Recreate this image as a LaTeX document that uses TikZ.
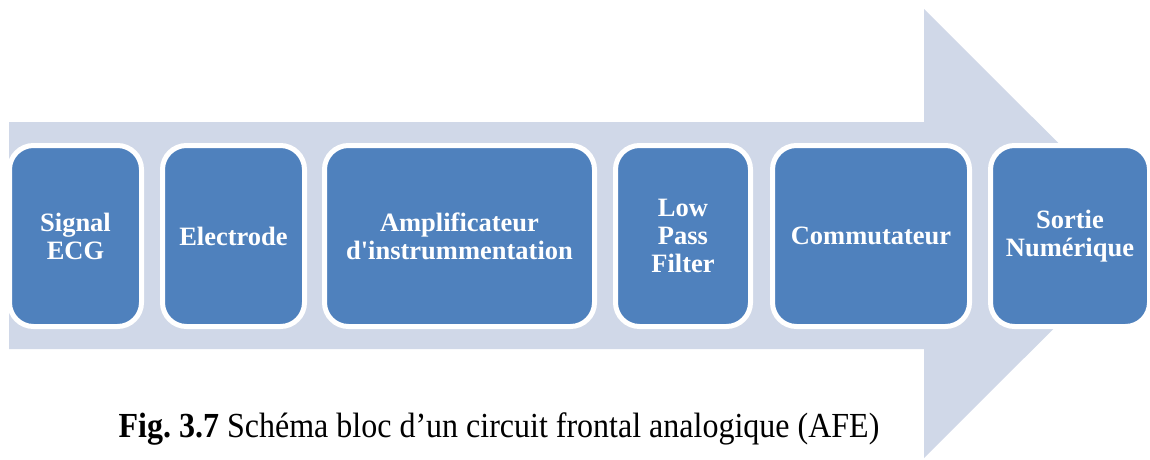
\documentclass[tikz,border=0pt]{standalone}
\usepackage{fontspec}
\usepackage{graphicx}
\setmainfont{Liberation Serif}
\definecolor{arrowfill}{HTML}{D0D8E8}
\definecolor{boxfill}{HTML}{4F81BD}
\begin{document}
\begin{tikzpicture}[x=1pt,y=-1pt,
  blk/.style={draw=white, line width=5pt, fill=boxfill, rounded corners=24pt,
    minimum height=181pt, inner sep=0pt, align=center, text=white,
    font=\bfseries\fontsize{26.5}{28}\selectfont},
  captext/.style={font=\fontsize{32}{36}\selectfont, anchor=base, inner sep=0pt}]
\useasboundingbox (0,0) rectangle (1150,459);
\fill[arrowfill] (9,122) -- (924,122) -- (924,9) -- (1149,233.5) -- (924,458) -- (924,349) -- (9,349) -- cycle;
\node[blk, minimum width=132pt] (b1) at (75.5,236) {Signal\\ECG};
\node[blk, minimum width=142pt] (b2) at (233.5,236) {Electrode};
\node[blk, minimum width=270pt] (b3) at (459.5,236) {Amplificateur\\d\textquotesingle instrummentation};
\node[blk, minimum width=135pt] (b4) at (683,236) {Low\\Pass\\Filter};
\node[blk, minimum width=197pt] (b5) at (871,236) {Commutateur};
\node[blk, minimum width=159pt] (b6) at (1070,236) {Sortie\\Numérique};
\node[captext] (caption) at (499,437) {\scalebox{1}[1.1]{\frenchspacing\textbf{Fig. 3.7} Schéma bloc d’un circuit frontal analogique (AFE)}};
\end{tikzpicture}
\end{document}
